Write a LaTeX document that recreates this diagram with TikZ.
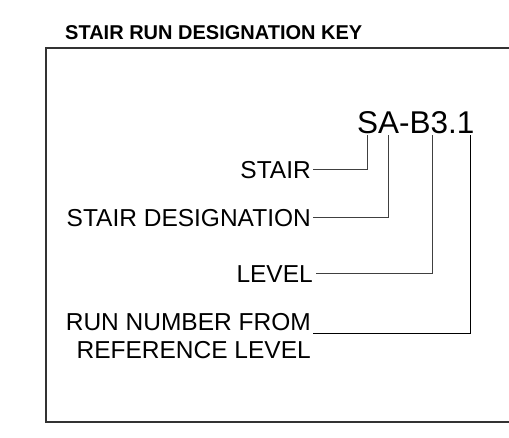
\documentclass[tikz,border=0pt]{standalone}
\usepackage{fontspec}
\setmainfont{Liberation Sans}
\usetikzlibrary{positioning}

\begin{document}
\begin{tikzpicture}[x=1pt,y=-1pt,
  lbl/.style={inner sep=0pt,font=\fontsize{24.5}{28}\selectfont},
  lead/.style={black!75,line width=0.9pt}]
\useasboundingbox (0,0) rectangle (509,437);
% title and the frame (open to the right)
\node[inner sep=0pt,anchor=base west,font=\bfseries\fontsize{20}{24}\selectfont] (title) at (65,39) {STAIR RUN DESIGNATION KEY};
\draw[black!80,line width=1.3pt] (509,48) -- (46,48) -- (46,422) -- (509,422);
% the designation and the points under its parts
\node[inner sep=0pt,anchor=base west,font=\fontsize{31.5}{36}\selectfont] (code) at (357,133) {SA-B3.1};
\coordinate (kS) at (367,135); \coordinate (kA) at (388,135);
\coordinate (kB) at (432,135); \coordinate (kN) at (470,135);
% labels
\node[lbl,anchor=base east] (stair) at (311,178) {STAIR};
\node[lbl,anchor=base east] (desig) at (311,226) {STAIR DESIGNATION};
\node[lbl,anchor=base east] (level) at (313,282) {LEVEL};
\node[lbl,anchor=base east] (run) at (311,330) {RUN NUMBER FROM};
\node[lbl,below=11pt of run.south east,anchor=north east] (ref) {REFERENCE LEVEL};
% leaders
\draw[lead] ([xshift=2pt]stair.east) -| (kS);
\draw[lead] ([xshift=2pt]desig.east) -| (kA);
\draw[lead] ([xshift=3pt]level.east) -| (kB);
\draw[lead,black] ([xshift=2pt,yshift=-3pt]run.south east) -| (kN);
\end{tikzpicture}
\end{document}
